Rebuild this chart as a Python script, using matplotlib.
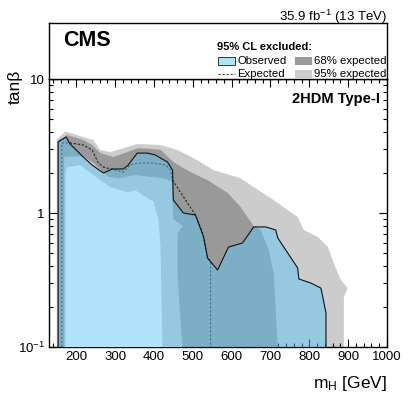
import matplotlib
matplotlib.use('Agg')
import matplotlib.pyplot as plt
from matplotlib.ticker import FixedLocator, MultipleLocator, LogLocator, NullFormatter, FixedFormatter
from matplotlib.patches import Rectangle
from matplotlib.lines import Line2D

plt.rcParams['font.family'] = ['Liberation Sans', 'DejaVu Sans']
plt.rcParams['mathtext.fontset'] = 'custom'
plt.rcParams['mathtext.rm'] = 'Liberation Sans'
plt.rcParams['mathtext.it'] = 'Liberation Sans:italic'
plt.rcParams['mathtext.bf'] = 'Liberation Sans:bold'

# ---------------- data (m_H [GeV], tan beta) ----------------
obs_m = [153.5, 153.5, 174, 184.5, 218, 241, 270, 293, 321, 334, 357, 383, 404, 412, 435, 448,
         450, 476, 507, 528, 538, 564, 592, 628, 657, 688, 713.5, 719, 770, 773, 804, 830, 843, 843]
obs_tb = [0.1, 3.39, 3.69, 3.27, 2.62, 2.28, 1.99, 2.13, 2.13, 2.28, 2.80, 2.80, 2.71, 2.62, 2.40, 2.09,
          1.25, 1.0, 0.966, 0.662, 0.461, 0.376, 0.557, 0.597, 0.787, 0.787, 0.747, 0.65, 0.389, 0.322,
          0.30, 0.275, 0.179, 0.1]

exp_m = [163, 163, 184.5, 218, 241, 257, 270, 321, 339, 360, 399, 430, 443, 448, 476, 507, 525, 538, 546, 546]
exp_tb = [0.1, 3.33, 3.33, 3.22, 2.95, 2.36, 2.20, 2.02, 2.28, 2.36, 2.36, 2.28, 2.09, 1.76, 1.32, 0.966,
          0.71, 0.47, 0.431, 0.1]

out95_m = [150, 150, 172, 184.5, 218, 244, 262, 288, 332, 357, 417, 461, 502, 553.5, 623, 657, 708,
           770, 786, 822, 848, 863, 881, 899, 889, 889]
out95_tb = [0.1, 3.55, 4.05, 3.95, 3.69, 3.51, 2.95, 2.85, 3.11, 3.27, 3.22, 2.95, 2.57, 2.09, 1.82,
            1.56, 1.25, 0.933, 0.747, 0.662, 0.557, 0.423, 0.316, 0.275, 0.236, 0.1]

out68_m = [152, 152, 177, 218, 241, 262, 295.5, 332, 360, 417, 450, 494, 538, 590, 623, 657, 675,
           695.5, 708, 719]
out68_tb = [0.1, 3.45, 3.82, 3.51, 3.22, 2.80, 2.62, 2.85, 3.05, 2.97, 2.40, 2.02, 1.76, 1.41, 1.11,
            0.80, 0.747, 0.53, 0.357, 0.1]

in68_m = [169, 169, 218, 244, 283, 313.5, 352, 391, 424.5, 446, 450, 474, 461, 461, 473.5]
in68_tb = [0.1, 2.62, 2.66, 2.36, 1.86, 1.82, 1.92, 1.86, 1.82, 1.72, 0.90, 0.80, 0.70, 0.333, 0.1]

in95_m = [173, 173, 177, 210, 244, 288, 332, 352, 391, 399, 412, 417, 422]
in95_tb = [0.1, 2.05, 2.20, 2.28, 1.92, 1.56, 1.43, 1.48, 1.25, 1.22, 0.887, 0.557, 0.1]

x_ticks = [200, 300, 400, 500, 600, 700, 800, 900, 1000]
x_labels = ['200', '300', '400', '500', '600', '700', '800', '900', '1000']
y_ticks = [0.1, 1, 10]
y_labels = ['$10^{-1}$', '1', '10']

# ---------------- colours ----------------
c95 = '#cccccc'
c68 = '#999999'
c_obs = (94/255, 196/255, 245/255)
a_obs = 0.49

fig = plt.figure(figsize=(4.11, 3.95), dpi=100)
ax = fig.add_axes([49/411, 48/395, 338/411, 268/395])
axb = fig.add_axes([49/411, 316/395, 338/411, 56/395])

ax.fill(out95_m, out95_tb, color=c95, lw=0, zorder=1)
ax.fill(out68_m, out68_tb, color=c68, lw=0, zorder=2)
ax.fill(in68_m, in68_tb, color=c95, lw=0, zorder=3)
ax.fill(in95_m, in95_tb, color='white', lw=0, zorder=4)
ax.plot(exp_m, exp_tb, color='#222222', lw=0.8, ls=(0, (2, 1.6)), zorder=5)
ax.fill(obs_m, obs_tb, color=c_obs, alpha=a_obs, lw=0, zorder=6)
ax.plot(obs_m, obs_tb, color='#111111', lw=0.8, zorder=7)

ax.set_yscale('log')
ax.set_xlim(130, 1000)
ax.set_ylim(0.1, 10)
ax.xaxis.set_major_locator(FixedLocator(x_ticks))
ax.xaxis.set_major_formatter(FixedFormatter(x_labels))
ax.xaxis.set_minor_locator(MultipleLocator(20))
ax.yaxis.set_major_locator(FixedLocator(y_ticks))
ax.yaxis.set_major_formatter(FixedFormatter(y_labels))
ax.yaxis.set_minor_locator(LogLocator(base=10, subs=range(2, 10)))
ax.yaxis.set_minor_formatter(NullFormatter())
ax.tick_params(which='both', direction='in', top=True, right=True, width=0.8, labelsize=9.5)
ax.tick_params(which='major', length=5.5)
ax.tick_params(which='minor', length=2.8)
ax.tick_params(axis='x', pad=3)
ax.tick_params(axis='y', pad=3)
for s in ax.spines.values():
    s.set_linewidth(1.0)

ax.text((380 - 49) / 338, 1.0 - (92 - 79) / 268, '2HDM Type-I', transform=ax.transAxes,
        ha='right', va='top', fontsize=10.5, fontweight='bold', zorder=10)

fig.text(387/411, (395-388)/395, 'm$_{\\mathrm{H}}$ [GeV]', ha='right', va='baseline', fontsize=12.5)
fig.text(15/411, (395-70)/395, 'tanβ', ha='center', va='top', rotation=90, fontsize=12.5)

# ---------------- top box ----------------
axb.set_xlim(0, 1)
axb.set_ylim(0, 1)
axb.set_xticks([])
axb.set_yticks([])
for s in axb.spines.values():
    s.set_linewidth(1.0)

def fx(px):
    return (px - 49) / 338

def fy(py):
    return (79 - py) / 56

axb.text(fx(63), fy(40.5), 'CMS', ha='left', va='center', fontsize=15.5, fontweight='bold')
axb.text(fx(217), fy(47), '95% CL excluded:', ha='left', va='center', fontsize=8, fontweight='bold')
axb.add_patch(Rectangle((fx(218), fy(65)), fx(235) - fx(218), fy(57) - fy(65),
                        facecolor=c_obs, alpha=a_obs, edgecolor='none'))
axb.add_patch(Rectangle((fx(218), fy(65)), fx(235) - fx(218), fy(57) - fy(65),
                        facecolor='none', edgecolor='#333333', lw=0.7))
axb.text(fx(237), fy(61), 'Observed', ha='left', va='center', fontsize=8.2)
axb.add_patch(Rectangle((fx(295), fy(65)), fx(312) - fx(295), fy(57) - fy(65),
                        facecolor=c68, edgecolor='none'))
axb.text(fx(314), fy(61), '68% expected', ha='left', va='center', fontsize=8.2)
axb.add_line(Line2D([fx(218), fx(235)], [fy(74), fy(74)], color='#444444', lw=0.8, ls=(0, (2, 1.6))))
axb.text(fx(237), fy(74), 'Expected', ha='left', va='center', fontsize=8.2)
axb.add_patch(Rectangle((fx(295), fy(78)), fx(312) - fx(295), fy(70) - fy(78),
                        facecolor=c95, edgecolor='none'))
axb.text(fx(314), fy(74), '95% expected', ha='left', va='center', fontsize=8.2)

fig.text(387/411, (395-21)/395, '35.9 fb$^{-1}$ (13 TeV)', ha='right', va='baseline', fontsize=9.5)

fig.savefig('out.png', dpi=100)
